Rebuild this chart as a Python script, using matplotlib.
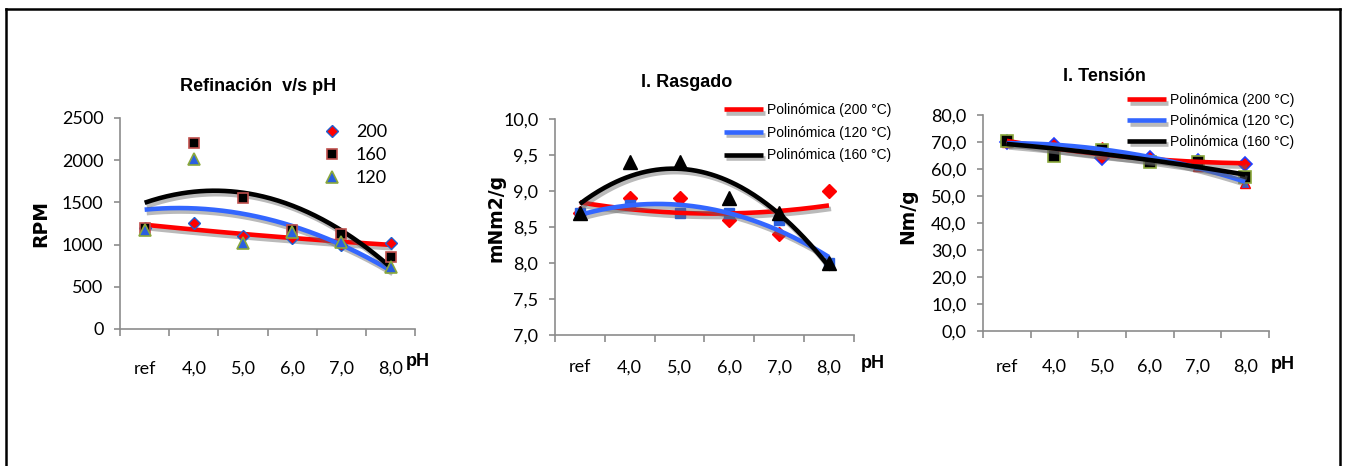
import numpy as np
import matplotlib
matplotlib.use("Agg")
import matplotlib.pyplot as plt
import matplotlib.patheffects as pe
from matplotlib.lines import Line2D

plt.rcParams["font.family"] = ["Liberation Sans", "DejaVu Sans"]

categories = ["ref", "4,0", "5,0", "6,0", "7,0", "8,0"]

# Refinación v/s pH (RPM)
rpm_200 = [1200, 1250, 1100, 1080, 1000, 1020]
rpm_160 = [1200, 2200, 1550, 1170, 1130, 850]
rpm_120 = [1170, 2020, 1020, 1150, 1030, 730]

# I. Rasgado (mNm2/g)
ras_200 = [8.7, 8.9, 8.9, 8.6, 8.4, 9.0]
ras_120 = [8.7, 8.8, 8.7, 8.7, 8.6, 8.0]
ras_160 = [8.7, 9.4, 9.4, 8.9, 8.7, 8.0]

# I. Tensión (Nm/g)
ten_200 = [70.0, 69.0, 64.0, 64.0, 63.0, 62.0]
ten_120 = [70.0, 68.0, 68.0, 64.0, 61.0, 55.0]
ten_160 = [70.5, 65.0, 67.0, 62.5, 62.5, 57.0]

trend_labels = ["Polinómica (200 °C)", "Polinómica (120 °C)", "Polinómica (160 °C)"]

RED = "#ff0000"
BLUE = "#3366ff"
BLACK = "#000000"
GREEN = "#8aa83c"
TICKFONT = ["Lato", "DejaVu Sans"]

x = np.arange(1, len(categories) + 1)
shadow = [pe.SimpleLineShadow(offset=(1.5, -2.5), shadow_color="0.4", alpha=0.45), pe.Normal()]


def trend(ax, y, color):
    # Excel-style 2nd order polynomial trendline
    coef = np.polyfit(x, y, 2)
    xs = np.linspace(x[0], x[-1], 200)
    ln, = ax.plot(xs, np.polyval(coef, xs), color=color, lw=3.3, zorder=4,
                  path_effects=shadow, solid_capstyle="butt")
    return ln


def style_axes(ax, ylim, yticks, yfmt, ylabel, xpad, ylab_xy, ph_xy):
    ax.set_xlim(0.5, len(categories) + 0.5)
    ax.set_ylim(*ylim)
    ax.set_yticks(yticks)
    ax.set_yticklabels([yfmt(v) for v in yticks], fontsize=13, family=TICKFONT)
    ax.set_xticks(np.arange(0.5, len(categories) + 1, 1.0))
    ax.set_xticklabels([])
    ax.set_xticks(x, minor=True)
    ax.set_xticklabels(categories, minor=True, fontsize=13, family=TICKFONT)
    ax.tick_params(axis="x", which="minor", length=0, pad=xpad)
    ax.tick_params(axis="x", which="major", length=5, color="0.55", width=1.2)
    ax.tick_params(axis="y", length=4, color="0.55", width=1.2, pad=8)
    for s in ["top", "right"]:
        ax.spines[s].set_visible(False)
    for s in ["left", "bottom"]:
        ax.spines[s].set_color("0.55")
        ax.spines[s].set_linewidth(1.2)
    ax.set_ylabel(ylabel, fontsize=13.5, fontweight="bold", family=["DejaVu Sans"])
    ax.yaxis.set_label_coords(*ylab_xy)
    ax.text(ph_xy[0], ph_xy[1], "pH", transform=ax.transAxes, fontsize=13,
            fontweight="bold", ha="center", va="center")


def title(ax, txt, xy):
    ax.text(xy[0], xy[1], txt, transform=ax.transAxes, fontsize=13,
            fontweight="bold", ha="center", va="center")


fig = plt.figure(figsize=(13.46, 4.66), dpi=100)

# ---- panel 1
ax1 = fig.add_axes([0.0892, 0.2940, 0.2192, 0.4528])
trend(ax1, rpm_200, RED)
trend(ax1, rpm_120, BLUE)
trend(ax1, rpm_160, BLACK)
ax1.plot(x, rpm_200, ls="none", marker="D", ms=6.5, mfc=RED, mec="#1f5fd0",
         mew=1.0, label="200", zorder=5)
ax1.plot(x, rpm_160, ls="none", marker="s", ms=7.5, mfc=BLACK, mec="#c0504d",
         mew=1.2, label="160", zorder=5)
ax1.plot(x, rpm_120, ls="none", marker="^", ms=8.5, mfc="#2a5fe0", mec=GREEN,
         mew=1.2, label="120", zorder=5)
style_axes(ax1, (0, 2500), np.arange(0, 2501, 500), lambda v: f"{v:.0f}", "RPM",
           23, (-0.237, 0.50), (1.01, -0.156))
title(ax1, "Refinación  v/s pH", (0.468, 1.147))
ax1.legend(loc="upper left", bbox_to_anchor=(0.634, 1.049), frameon=False,
           handlelength=1.0, handletextpad=0.8, labelspacing=0.4,
           prop={"family": TICKFONT, "size": 13})

# ---- panel 2
ax2 = fig.add_axes([0.4123, 0.2811, 0.2221, 0.4635])
l200 = trend(ax2, ras_200, RED)
l120 = trend(ax2, ras_120, BLUE)
l160 = trend(ax2, ras_160, BLACK)
ax2.plot(x, ras_200, ls="none", marker="D", ms=7, mfc=RED, mec=RED, zorder=3)
ax2.plot(x, ras_120, ls="none", marker="s", ms=7, mfc="#2a5fe0", mec="#2a5fe0", zorder=3)
ax2.plot(x, ras_160, ls="none", marker="^", ms=10, mfc=BLACK, mec=BLACK, zorder=5)
style_axes(ax2, (7.0, 10.0), np.arange(7.0, 10.01, 0.5),
           lambda v: f"{v:.1f}".replace(".", ","), "mNm2/g",
           17.5, (-0.167, 0.54), (1.064, -0.13))
title(ax2, "I. Rasgado", (0.441, 1.167))
ax2.legend([l200, l120, l160], trend_labels,
           loc="upper left", bbox_to_anchor=(0.525, 1.131), frameon=False,
           handlelength=2.75, handletextpad=0.3, labelspacing=0.62,
           prop={"size": 10})

# ---- panel 3
ax3 = fig.add_axes([0.7303, 0.2897, 0.2125, 0.4635])
m200 = trend(ax3, ten_200, RED)
m120 = trend(ax3, ten_120, BLUE)
m160 = trend(ax3, ten_160, BLACK)
ax3.plot(x, ten_200, ls="none", marker="D", ms=7, mfc=RED, mec="#1f3fff", mew=1.2, zorder=3)
ax3.plot(x, ten_120, ls="none", marker="^", ms=7, mfc="#2a5fe0", mec=RED, mew=1.0, zorder=3)
ax3.plot(x, ten_160, ls="none", marker="s", ms=8, mfc=BLACK, mec=GREEN, mew=1.2, zorder=3)
style_axes(ax3, (0, 80), np.arange(0, 80.1, 10),
           lambda v: f"{v:.1f}".replace(".", ","), "Nm/g",
           20, (-0.231, 0.53), (1.049, -0.157))
title(ax3, "I. Tensión", (0.423, 1.176))
ax3.legend([m200, m120, m160], trend_labels,
           loc="upper left", bbox_to_anchor=(0.4615, 1.16), frameon=False,
           handlelength=2.75, handletextpad=0.3, labelspacing=0.5,
           prop={"size": 10})

# outer frame (open at the bottom)
for xs, ys in [((0.0045, 0.0045), (0.0, 0.981)),
               ((0.0045, 0.9955), (0.981, 0.981)),
               ((0.9955, 0.9955), (0.981, 0.0))]:
    fig.add_artist(Line2D(xs, ys, transform=fig.transFigure, color="black", lw=1.8))

fig.savefig("out.png", dpi=100)
